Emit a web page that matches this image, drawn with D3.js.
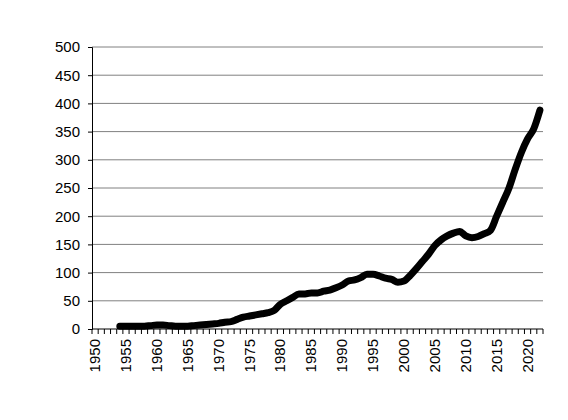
<!DOCTYPE html>
<html><head><meta charset="utf-8">
<script src="https://cdn.jsdelivr.net/npm/d3@7"></script>
<style>body{margin:0;background:#fff}text{font-family:"Liberation Sans",Arial,sans-serif}</style>
</head><body><svg id="chart" width="568" height="420"></svg>
<script>
const years = d3.range(1950, 2023);
const dataYears = d3.range(1954, 2023);
const values = [5,5,5,5,5,6,7,7,6,5,5,5,6,7,8,9,10,12,13,17,21,23,25,27,29,33,44,50,56,62,62,64,64,67,69,73,78,85,87,91,97,97,94,90,88,83,85,95,107,120,133,148,158,165,170,173,165,162,164,169,175,200,225,250,283,313,337,355,388];
const yTicks = d3.range(0, 501, 50);

const svg = d3.select("#chart");
const plotLeft = 92, plotRight = 543, plotTop = 47, plotBottom = 329;

const x = d3.scaleBand().domain(years).range([plotLeft, plotRight]);
const y = d3.scaleLinear().domain([0, 500]).range([plotBottom, plotTop]);

svg.append("g").selectAll("line").data(yTicks.slice(1)).join("line")
    .attr("x1", plotLeft).attr("x2", plotRight)
    .attr("y1", d => y(d)).attr("y2", d => y(d))
    .attr("stroke", "#808080").attr("stroke-width", 1);

const yAxis = svg.append("g").attr("transform", "translate(" + plotLeft + ",0)")
    .call(d3.axisLeft(y).tickValues(yTicks).tickSize(4).tickPadding(8));
yAxis.selectAll("text").attr("font-size", 15).attr("fill", "#000");
yAxis.select(".domain").attr("stroke", "#000");

const xAxis = svg.append("g").attr("transform", "translate(0," + plotBottom + ")");
xAxis.append("line").attr("x1", plotLeft).attr("x2", plotRight).attr("stroke", "#000");
xAxis.selectAll(".tk").data(years.concat([2023])).join("line")
    .attr("x1", d => d === 2023 ? plotRight : x(d)).attr("x2", d => d === 2023 ? plotRight : x(d))
    .attr("y1", 0).attr("y2", 5).attr("stroke", "#000");
xAxis.selectAll("text").data(years.filter(d => d % 5 === 0)).join("text")
    .attr("transform", d => "translate(" + (x(d) + x.bandwidth() / 2 + 5) + ",10) rotate(-90)")
    .attr("text-anchor", "end").attr("font-size", 15).text(d => d);

const line = d3.line()
    .x(d => x(d[0]) + x.bandwidth() / 2)
    .y(d => y(d[1]))
    .curve(d3.curveMonotoneX);

svg.append("path")
    .datum(dataYears.map((d, i) => [d, values[i]]))
    .attr("d", line).attr("fill", "none")
    .attr("stroke", "#000").attr("stroke-width", 7)
    .attr("stroke-linecap", "round").attr("stroke-linejoin", "round");
</script></body></html>
